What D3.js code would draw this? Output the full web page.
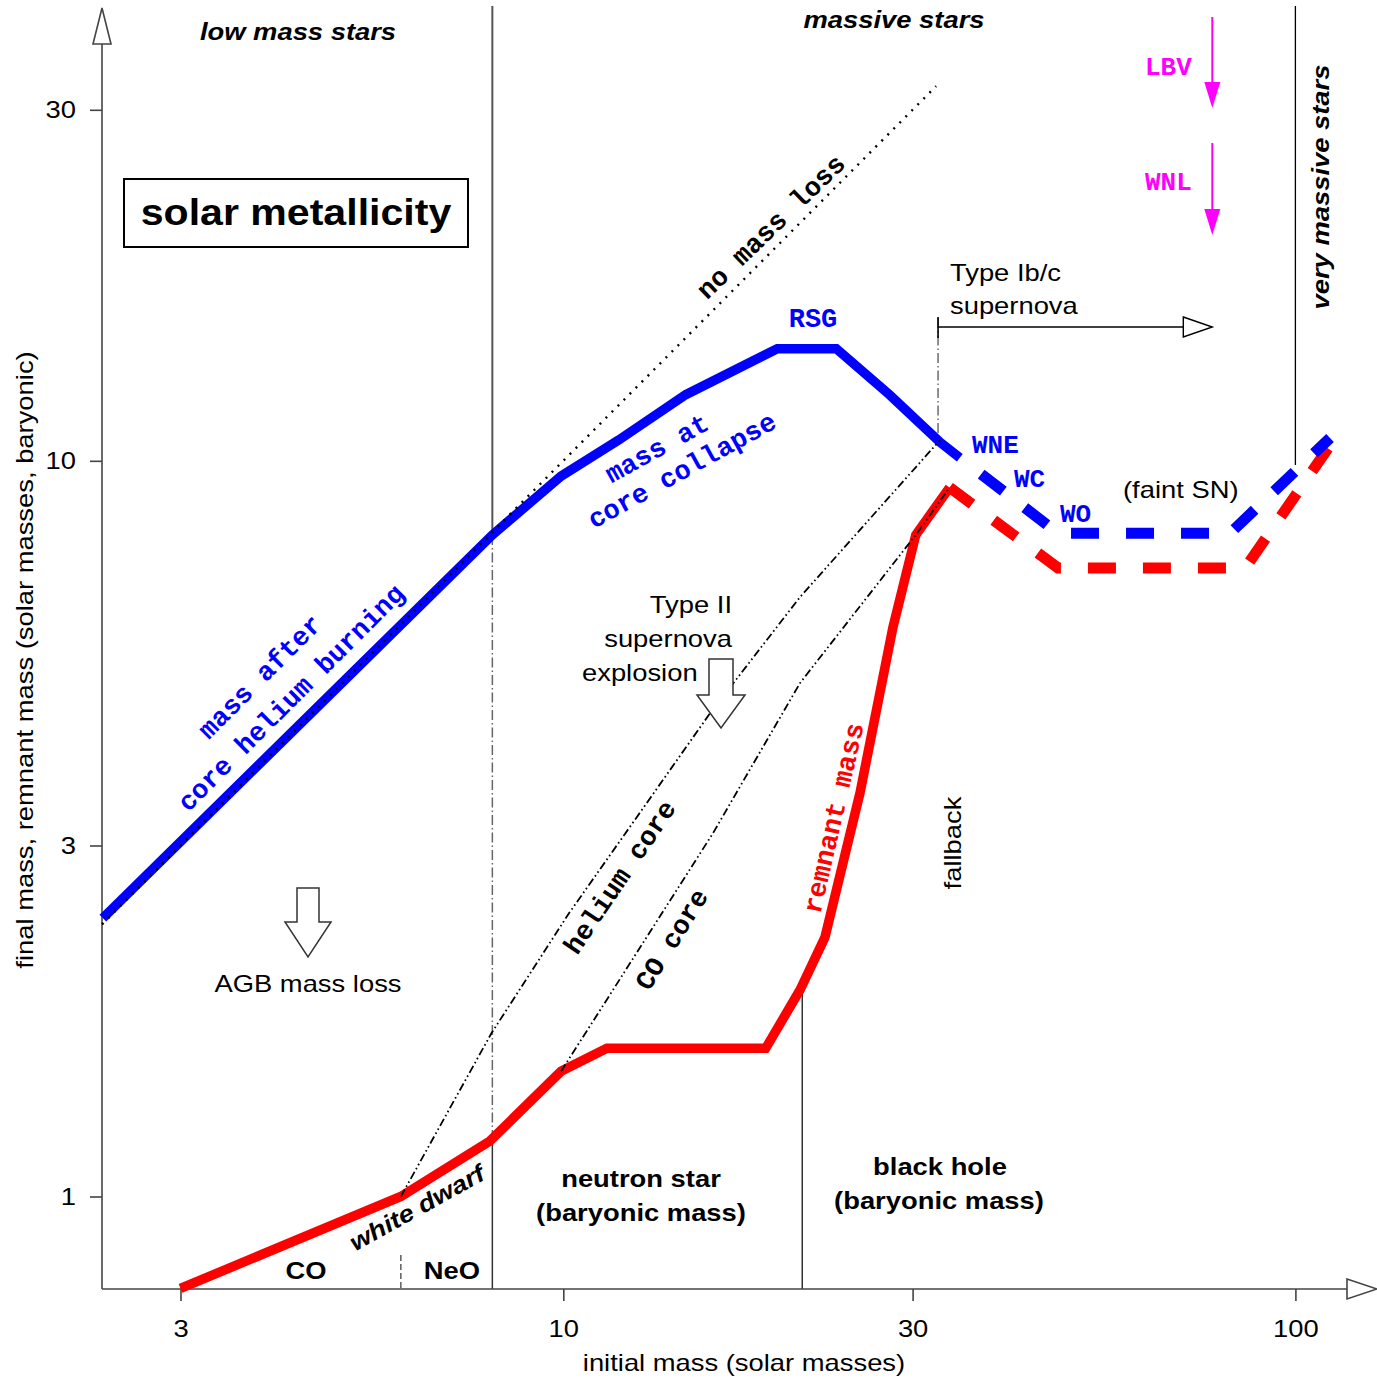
<!DOCTYPE html>
<html><head><meta charset="utf-8">
<script src="https://cdn.jsdelivr.net/npm/d3@7"></script>
<style>body{margin:0;background:#fff}</style>
</head><body>
<svg id="chart" width="1377" height="1378"></svg>
<script>
// ---------------- data ----------------
const xTickValues = [3, 10, 30, 100];
const yTickValues = [1, 3, 10, 30];

// mass after core helium burning / at core collapse (solid blue)
const preSnInitial = [2.35, 8.0, 9.93, 11.9, 14.7, 19.6, 23.6, 27.9, 32.7, 34.8];
const preSnFinal   = [2.39, 7.93, 9.53, 10.67, 12.3, 14.2, 14.2, 12.3, 10.6, 10.1];
// Wolf-Rayet branch (dashed blue)
const wrInitial = [34.8, 47.4, 81.4, 111.5];
const wrFinal   = [10.1, 7.97, 7.97, 10.74];
// remnant mass (solid red)
const remnantInitial = [3.0, 6.0, 7.94, 9.93, 11.47, 18.9, 21.06, 22.77, 25.43, 28.2, 30.3, 33.7];
const remnantFinal   = [0.75, 1.0, 1.19, 1.48, 1.59, 1.59, 1.91, 2.25, 3.54, 5.94, 7.93, 9.2];
// remnant mass, faint SN (dashed red)
const faintInitial = [33.7, 47.4, 85.4, 110.8];
const faintFinal   = [9.2, 7.15, 7.15, 10.4];
// helium core
const heInitial = [6.0, 7.98, 10.19, 15.87, 21.06, 32.7];
const heFinal   = [1.0, 1.668, 2.43, 4.54, 6.53, 10.67];
// CO core
const coInitial = [9.93, 11.22, 16.02, 21.06, 30.3, 33.7];
const coFinal   = [1.48, 1.79, 3.12, 4.99, 7.93, 9.2];
// no mass loss (final = initial)
const noLossInitial = [2.344, 32.3];
const noLossFinal   = [2.344, 32.3];
// boundary masses
const coNeOBoundary = 6;
const wdLimit = 8;
const nsBhBoundary = 21.2;
const ibcLimit = 32.5;
const vmsLimit = 100;
const lbvMass = 77;

// ---------------- scales ----------------
const W = 1377, H = 1378;
const x = d3.scaleLog().domain([3, 100]).range([180.5, 1295.4]);
const y = d3.scaleLog().domain([1, 30]).range([1196.5, 109.8]);
const X0 = 102, Y0 = 1289;

const svg = d3.select("#chart");
svg.append("rect").attr("width", W).attr("height", H).attr("fill", "#fff");

const SANS = "'Liberation Sans', Arial, Helvetica, sans-serif";
const MONO = "'Liberation Mono', 'Courier New', monospace";
const AX = "#444";
const STRETCH = 1.14;

const line = d3.line().x(d => x(d[0])).y(d => y(d[1]));

function stretch(sel, k) {
  sel.each(function () {
    const len = this.getComputedTextLength();
    d3.select(this).attr("textLength", len * k).attr("lengthAdjust", "spacingAndGlyphs");
  });
}
function txt(px, py, s, o = {}) {
  const t = svg.append("text")
    .attr("x", px).attr("y", py)
    .attr("font-family", o.mono ? MONO : SANS)
    .attr("font-size", o.size || 24)
    .attr("font-weight", o.bold ? "bold" : "normal")
    .attr("font-style", o.italic ? "italic" : "normal")
    .attr("fill", o.color || "#000")
    .attr("text-anchor", o.anchor || "start")
    .text(s);
  if (!o.mono) stretch(t, o.k || STRETCH);
  if (o.rot !== undefined) t.attr("transform", `rotate(${o.rot},${px},${py})`);
  return t;
}
function vline(m, y1, y2, stroke, sw, dash) {
  const l = svg.append("line")
    .attr("x1", x(m)).attr("x2", x(m)).attr("y1", y1).attr("y2", y2)
    .attr("stroke", stroke).attr("stroke-width", sw);
  if (dash) l.attr("stroke-dasharray", dash);
  return l;
}

// ---------------- boundary lines ----------------
const DASHDOT = "10,3,1.5,3";
vline(wdLimit, 6, y(7.93), "#555", 2);
vline(wdLimit, y(7.93), y(1.19), "#666", 1.5, DASHDOT);
vline(wdLimit, y(1.19), Y0, "#333", 1.5);
vline(coNeOBoundary, 1255, Y0, "#333", 1.2, "6,3");
vline(nsBhBoundary, y(1.93), Y0, "#000", 1.2);
vline(ibcLimit, 318, y(10.67), "#555", 1.3, DASHDOT);
vline(vmsLimit, 6, y(9.87), "#000", 1.3);

// ---------------- axes ----------------
svg.append("line").attr("x1", X0).attr("x2", X0).attr("y1", Y0).attr("y2", 44)
  .attr("stroke", AX).attr("stroke-width", 1.6);
svg.append("polygon").attr("points", `${X0-9},44 ${X0},8 ${X0+9},44`)
  .attr("fill", "#fff").attr("stroke", AX).attr("stroke-width", 1.6);
svg.append("line").attr("x1", X0).attr("x2", 1347).attr("y1", Y0).attr("y2", Y0)
  .attr("stroke", AX).attr("stroke-width", 1.6);
svg.append("polygon").attr("points", `1347,${Y0-10} 1377,${Y0} 1347,${Y0+10}`)
  .attr("fill", "#fff").attr("stroke", AX).attr("stroke-width", 1.6);

const xAxis = d3.axisBottom(x).tickValues(xTickValues).tickFormat(d3.format("d"))
  .tickSizeInner(12).tickSizeOuter(0).tickPadding(19);
const gx = svg.append("g").attr("transform", `translate(0,${Y0})`).call(xAxis);
const yAxis = d3.axisLeft(y).tickValues(yTickValues).tickFormat(d3.format("d"))
  .tickSizeInner(12).tickSizeOuter(0).tickPadding(14);
const gy = svg.append("g").attr("transform", `translate(${X0},0)`).call(yAxis);
[gx, gy].forEach(g => {
  g.select(".domain").remove();
  g.selectAll(".tick line").attr("stroke", AX).attr("stroke-width", 1.6);
  g.selectAll(".tick text").attr("font-family", SANS).attr("font-size", 24).attr("fill", "#000");
  stretch(g.selectAll(".tick text"), STRETCH);
});

txt(744, 1371, "initial mass (solar masses)", {anchor: "middle"});
txt(33, 660, "final mass, remnant mass (solar masses, baryonic)", {anchor: "middle", rot: -90});

// ---------------- curves ----------------
svg.append("path").datum(d3.zip(remnantInitial, remnantFinal)).attr("d", line)
  .attr("fill", "none").attr("stroke", "#ff0000").attr("stroke-width", 9.5);
svg.append("path").datum(d3.zip(faintInitial, faintFinal)).attr("d", line)
  .attr("fill", "none").attr("stroke", "#ff0000").attr("stroke-width", 11)
  .attr("stroke-dasharray", "28,27");
svg.append("path").datum(d3.zip(preSnInitial, preSnFinal)).attr("d", line)
  .attr("fill", "none").attr("stroke", "#0000ff").attr("stroke-width", 9.5);
svg.append("path").datum(d3.zip(wrInitial, wrFinal)).attr("d", line)
  .attr("fill", "none").attr("stroke", "#0000ff").attr("stroke-width", 11)
  .attr("stroke-dasharray", "28,27").attr("stroke-dashoffset", 28);

const CORE = "8,3,1.6,3,1.6,3";
svg.append("path").datum(d3.zip(heInitial, heFinal)).attr("d", line)
  .attr("fill", "none").attr("stroke", "#000").attr("stroke-width", 1.8)
  .attr("stroke-dasharray", CORE);
svg.append("path").datum(d3.zip(coInitial, coFinal)).attr("d", line)
  .attr("fill", "none").attr("stroke", "#000").attr("stroke-width", 1.8)
  .attr("stroke-dasharray", CORE);
svg.append("path").datum(d3.zip(noLossInitial, noLossFinal)).attr("d", line)
  .attr("fill", "none").attr("stroke", "#000").attr("stroke-width", 2.4)
  .attr("stroke-dasharray", "2,6.5");

// ---------------- arrows ----------------
const ax1 = x(ibcLimit), ax2 = x(lbvMass);
svg.append("line").attr("x1", ax1).attr("x2", ax2 - 29).attr("y1", 327).attr("y2", 327)
  .attr("stroke", "#000").attr("stroke-width", 1.6);
svg.append("line").attr("x1", ax1).attr("x2", ax1).attr("y1", 317).attr("y2", 338)
  .attr("stroke", "#000").attr("stroke-width", 1.6);
svg.append("polygon").attr("points", `${ax2-29},317 ${ax2},327 ${ax2-29},337`)
  .attr("fill", "#fff").attr("stroke", "#000").attr("stroke-width", 1.4);

[[17, 108], [143, 235]].forEach(([a, b]) => {
  const mx = x(lbvMass);
  svg.append("line").attr("x1", mx).attr("x2", mx).attr("y1", a).attr("y2", b - 20)
    .attr("stroke", "#ff00ff").attr("stroke-width", 2);
  svg.append("polygon").attr("points", `${mx-8},${b-26} ${mx},${b} ${mx+8},${b-26}`)
    .attr("fill", "#ff00ff");
});

function blockArrow(cx, top, shoulder, tip, hw, aw) {
  svg.append("polygon").attr("points",
    `${cx-hw},${top} ${cx+hw},${top} ${cx+hw},${shoulder} ${cx+aw},${shoulder} ${cx},${tip} ${cx-aw},${shoulder} ${cx-hw},${shoulder}`)
    .attr("fill", "#fff").attr("stroke", "#333").attr("stroke-width", 1.5);
}
blockArrow(308, 888, 922, 957, 11, 23);
blockArrow(721, 659, 695, 728, 12, 24);

// ---------------- box ----------------
svg.append("rect").attr("x", 124).attr("y", 179).attr("width", 344).attr("height", 68)
  .attr("fill", "#fff").attr("stroke", "#000").attr("stroke-width", 2);
txt(296, 225, "solar metallicity", {anchor: "middle", bold: true, size: 37, k: 1.11});

// ---------------- labels ----------------
txt(298, 40, "low mass stars", {anchor: "middle", bold: true, italic: true});
txt(894, 28, "massive stars", {anchor: "middle", bold: true, italic: true});
txt(1329, 187, "very massive stars", {anchor: "middle", bold: true, italic: true, rot: -90});

txt(777, 233, "no mass loss", {anchor: "middle", mono: true, bold: true, size: 27, rot: -44});
txt(813, 327, "RSG", {anchor: "middle", mono: true, bold: true, size: 27, color: "#0000ff"});
txt(661, 456, "mass at", {anchor: "middle", mono: true, bold: true, size: 27, color: "#0000ff", rot: -29});
txt(686, 478, "core collapse", {anchor: "middle", mono: true, bold: true, size: 27, color: "#0000ff", rot: -29});
txt(266, 683, "mass after", {anchor: "middle", mono: true, bold: true, size: 27, color: "#0000ff", rot: -45});
txt(297, 704, "core helium burning", {anchor: "middle", mono: true, bold: true, size: 27, color: "#0000ff", rot: -45});

txt(972, 453, "WNE", {mono: true, bold: true, size: 26, color: "#0000ff"});
txt(1014, 487, "WC", {mono: true, bold: true, size: 26, color: "#0000ff"});
txt(1060, 522, "WO", {mono: true, bold: true, size: 26, color: "#0000ff"});
txt(1145, 75, "LBV", {mono: true, bold: true, size: 26, color: "#ff00ff"});
txt(1145, 190, "WNL", {mono: true, bold: true, size: 26, color: "#ff00ff"});

txt(950, 281, "Type Ib/c");
txt(950, 314, "supernova");
txt(1123, 498, "(faint SN)");

txt(732, 613, "Type II", {anchor: "end"});
txt(732, 647, "supernova", {anchor: "end"});
txt(582, 681, "explosion");
txt(308, 992, "AGB mass loss", {anchor: "middle"});

txt(627, 882, "helium core", {anchor: "middle", mono: true, bold: true, size: 27, rot: -56});
txt(679, 944, "CO core", {anchor: "middle", mono: true, bold: true, size: 27, rot: -58});
txt(842, 820, "remnant mass", {anchor: "middle", mono: true, bold: true, size: 27, color: "#ff0000", rot: -77});
txt(961, 843, "fallback", {anchor: "middle", rot: -90});

txt(421, 1215, "white dwarf", {anchor: "middle", bold: true, italic: true, size: 24, rot: -29});
txt(306, 1279, "CO", {anchor: "middle", bold: true});
txt(452, 1279, "NeO", {anchor: "middle", bold: true});
txt(641, 1187, "neutron star", {anchor: "middle", bold: true});
txt(641, 1221, "(baryonic mass)", {anchor: "middle", bold: true});
txt(940, 1175, "black hole", {anchor: "middle", bold: true});
txt(939, 1209, "(baryonic mass)", {anchor: "middle", bold: true});
</script>
</body></html>
